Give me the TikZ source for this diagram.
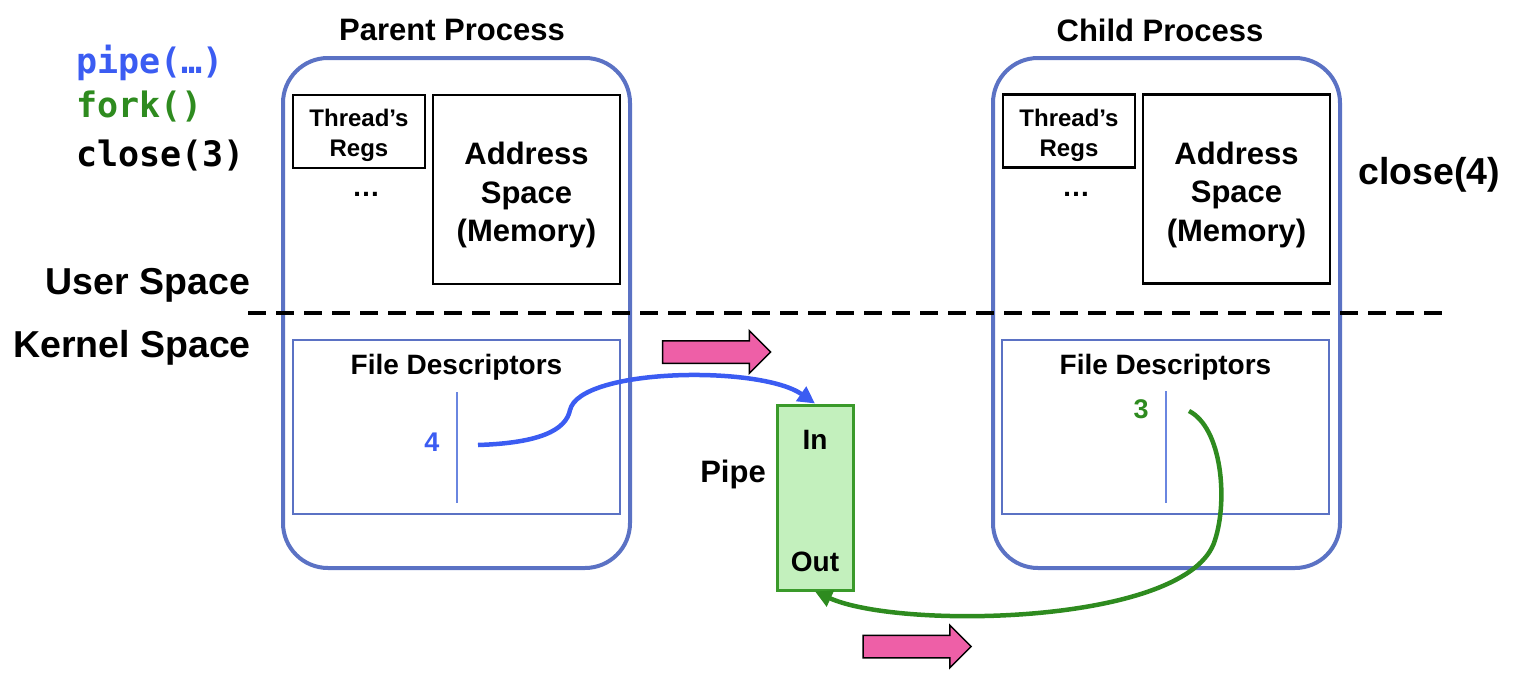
\documentclass[tikz,border=0pt]{standalone}
\usepackage{fontspec}
\setmainfont{Liberation Sans}
\setmonofont{DejaVu Sans Mono}
\usetikzlibrary{arrows.meta,shapes.arrows,positioning}

\definecolor{procblue}{HTML}{5B72C4}
\definecolor{fdline}{HTML}{6A86E0}
\definecolor{codeblue}{HTML}{3B5CF2}
\definecolor{codegreen}{HTML}{2E8B1F}
\definecolor{pipefill}{HTML}{C3F0BD}
\definecolor{pipedraw}{HTML}{3A9A2A}
\definecolor{arrowpink}{HTML}{EE5FA7}

\begin{document}
\begin{tikzpicture}[x=1pt,y=-1pt,inner sep=0pt,
    proc/.style={draw=procblue,line width=4pt,rounded corners=45pt,minimum width=347pt,minimum height=510pt},
    regs/.style={draw,line width=2.5pt,minimum width=132pt,minimum height=73pt,align=center,font=\fontsize{24}{30}\selectfont\bfseries},
    mem/.style={draw,line width=2.5pt,minimum width=187pt,minimum height=189pt,align=center,font=\fontsize{31}{38.5}\selectfont\bfseries},
    fdbox/.style={draw=procblue,line width=2pt,minimum width=327pt,minimum height=174pt},
    title/.style={font=\fontsize{31}{36}\selectfont\bfseries},
    label/.style={font=\fontsize{28}{34}\selectfont\bfseries},
    big/.style={font=\fontsize{37.5}{44}\selectfont\bfseries},
    code/.style={anchor=west,font=\fontsize{35}{40}\selectfont\ttfamily\bfseries},
    fdnum/.style={font=\fontsize{27}{32}\selectfont\bfseries},
    pipebox/.style={draw=pipedraw,fill=pipefill,line width=3pt,minimum width=76pt,minimum height=185pt},
    hint/.style={single arrow,draw,fill=arrowpink,line width=1.5pt,inner ysep=10.5pt,minimum height=108pt,
        single arrow head extend=10pt,single arrow head indent=0pt},
    link/.style={line width=4.5pt,-{Triangle[length=17pt,width=17pt]}}]
    \useasboundingbox (0,0) rectangle (1519,688);

    \node[code,text=codeblue] (pipecall) at (76,63) {pipe(…)};
    \node[code,text=codegreen] (forkcall) at (76,107) {fork()};
    \node[code] (close3) at (76,156) {close(3)};
    \node[big] (close4) at (1429,175) {close(4)};
    \node[big] (user) at (148,285) {User Space};
    \node[big] (kernel) at (132,348) {Kernel Space};

    \node[proc] (parent) at (456.5,313) {};
    \node[title] (ptitle) at (452,30) {Parent Process};
    \node[regs] (pregs) at (359,131.5) {};
    \node[regs,draw=none] (pregstext) at (359,135.5) {Thread’s\\Regs};
    \node[mem] (pmem) at (526.5,189.5) {};
    \node[mem,draw=none] (pmemtext) at (526.5,195) {Address\\Space\\(Memory)};
    \node[label] (pdots) at (366,194) {…};
    \node[fdbox] (pfd) at (456.5,427) {};
    \node[label] (pfdtitle) at (456.5,367) {File Descriptors};
    \draw[fdline,line width=2pt] (457,392) -- (457,503);
    \node[fdnum,text=codeblue] (four) at (432,442) {4};
    \coordinate (fd4) at (478,445);

    \node[proc] (child) at (1166.5,313) {};
    \node[title] (ctitle) at (1160,30) {Child Process};
    \node[regs] (cregs) at (1069,131) {};
    \node[regs,draw=none] (cregstext) at (1069,135) {Thread’s\\Regs};
    \node[mem] (cmem) at (1236.5,189) {};
    \node[mem,draw=none] (cmemtext) at (1236.5,194.5) {Address\\Space\\(Memory)};
    \node[label] (cdots) at (1076,194) {…};
    \node[fdbox] (cfd) at (1165.5,426.5) {};
    \node[label] (cfdtitle) at (1165.5,367) {File Descriptors};
    \draw[fdline,line width=2pt] (1166,391) -- (1166,503);
    \node[fdnum,text=codegreen] (three) at (1141,409) {3};
    \coordinate (fd3) at (1189,411);

    \draw[line width=3.5pt,dash pattern=on 18pt off 10pt] (248,313) -- (1445,313);

    \node[pipebox] (pipe) at (815,497.5) {};
    \node[label] (pin) at (815,440) {In};
    \node[label] (pout) at (815,562) {Out};
    \node[title] (pipelabel) at (733,474) {Pipe};

    \node[hint] (hint1) at (711,352) {};
    \node[hint] (hint2) at (911.5,646.5) {};

    \draw[link,codeblue] (fd4) .. controls (540,443) and (566,430) .. (570,410)
        .. controls (580,368) and (760,365) .. (pipe.north);
    \draw[link,codegreen] (fd3) .. controls (1222,428) and (1228,500) .. (1215,540)
        .. controls (1190,625) and (900,630) .. (pipe.south);
\end{tikzpicture}
\end{document}
